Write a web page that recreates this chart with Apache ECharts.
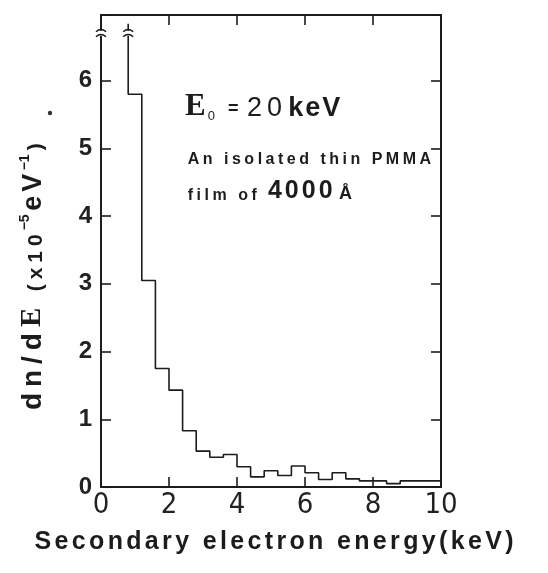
<!DOCTYPE html>
<html>
<head>
<meta charset="utf-8">
<script src="https://cdn.jsdelivr.net/npm/echarts@6/dist/echarts.min.js"></script>
<style>html,body{margin:0;padding:0;background:#fff}#c{width:548px;height:573px}</style>
</head>
<body>
<div id="c"></div>
<script>
// ---- data ----
const binLeftEdges = [0.8, 1.2, 1.6, 2.0, 2.4, 2.8, 3.2, 3.6, 4.0, 4.4, 4.8, 5.2, 5.6, 6.0, 6.4, 6.8, 7.2, 7.6, 8.0, 8.4, 8.8, 9.2, 9.6];
const binValues    = [5.8, 3.05, 1.75, 1.43, 0.83, 0.53, 0.44, 0.48, 0.30, 0.15, 0.24, 0.17, 0.31, 0.21, 0.11, 0.21, 0.12, 0.09, 0.09, 0.05, 0.09, 0.09, 0.09];
const histEnd = 10;
const offscaleValue = 6.84;        // first (off-scale) bin drawn up to the break
const breakMarksX = [0, 0.8];
const breakMarkY = 6.70;
const xTickLabels = ['0', '2', '4', '6', '8', '10'];
const yTickLabels = ['0', '1', '2', '3', '4', '5', '6'];
const xRange = [0, 10];
const yRange = [0, 6.97];

const INK = '#1c1c1c';
const SANS = "'Liberation Sans', Arial, sans-serif";
const NARROW = "'Liberation Sans Narrow', 'DejaVu Sans Condensed', 'Liberation Sans', sans-serif";
const SERIF = "'Liberation Serif', 'DejaVu Serif', serif";

const stepData = [[binLeftEdges[0], offscaleValue]]
  .concat(binLeftEdges.map((x, i) => [x, binValues[i]]))
  .concat([[histEnd, binValues[binValues.length - 1]]]);

function spaced(str, style) {
  return Array.from(str).map(c => '{' + style + '|' + c + '}').join('');
}

const chart = echarts.init(document.getElementById('c'), null, {renderer: 'canvas'});

const axisLine = {show: true, onZero: false, lineStyle: {color: INK, width: 2}};
const axisTick = {show: true, inside: true, length: 10, lineStyle: {color: INK, width: 1.6}};

chart.setOption({
  animation: false,
  backgroundColor: '#fff',
  grid: {left: 101, right: 107, top: 15, bottom: 86, containLabel: false},
  xAxis: [
    {type: 'value', position: 'bottom', min: xRange[0], max: xRange[1], interval: 2,
     axisLine, axisTick, splitLine: {show: false},
     axisLabel: {show: true, margin: 4, fontSize: 29, color: '#222', fontFamily: NARROW,
       formatter: v => xTickLabels.includes(String(v)) ? String(v) : ''}},
    {type: 'value', position: 'top', min: xRange[0], max: xRange[1], interval: 2,
     axisLine, axisTick, splitLine: {show: false}, axisLabel: {show: false}}
  ],
  yAxis: [
    {type: 'value', position: 'left', min: yRange[0], max: yRange[1], interval: 1,
     axisLine, axisTick, splitLine: {show: false},
     axisLabel: {show: true, margin: 9, fontSize: 24, fontWeight: 'bold', color: '#222', fontFamily: SANS,
       formatter: v => yTickLabels.includes(String(v)) ? String(v) : ''}},
    {type: 'value', position: 'right', min: yRange[0], max: yRange[1], interval: 1,
     axisLine, axisTick, splitLine: {show: false}, axisLabel: {show: false}}
  ],
  series: [
    {type: 'line', xAxisIndex: 0, yAxisIndex: 0, step: 'end', data: stepData,
     showSymbol: false, symbol: 'none', lineStyle: {color: INK, width: 1.6}, z: 3, silent: true},
    {type: 'custom', xAxisIndex: 0, yAxisIndex: 0, z: 5, silent: true,
     data: breakMarksX.map(x => [x, breakMarkY]),
     renderItem: function (params, api) {
       const p = api.coord([api.value(0), api.value(1)]);
       const cx = p[0], cy = p[1];
       return {type: 'group', children: [
         {type: 'rect', shape: {x: cx - 3, y: cy - 2.5, width: 6, height: 5}, style: {fill: '#fff'}},
         {type: 'bezierCurve', shape: {x1: cx - 5, y1: cy - 1.5, cpx1: cx, cpy1: cy - 6, x2: cx + 5, y2: cy - 1.5},
          style: {stroke: INK, lineWidth: 1.5, fill: null}},
         {type: 'bezierCurve', shape: {x1: cx - 5, y1: cy + 3.5, cpx1: cx, cpy1: cy - 1, x2: cx + 5, y2: cy + 3.5},
          style: {stroke: INK, lineWidth: 1.5, fill: null}}
       ]};
     }}
  ],
  graphic: [
    // stray dot in the reference
    {type: 'circle', shape: {cx: 50, cy: 113, r: 2.2}, style: {fill: '#333'}},
    // E0 = 20 keV
    {type: 'text', x: 185, y: 107,
     style: {
       text: '{e|E}{sub|0}{eq|=}{t|2}{t|0}{sp| }' + spaced('keV', 'k'),
       textAlign: 'left', align: 'left', textVerticalAlign: 'middle', verticalAlign: 'middle',
       fill: INK,
       rich: {
         e: {fontFamily: SERIF, fontWeight: 'bold', fontSize: 31, fill: INK, verticalAlign: 'bottom'},
         sub: {fontFamily: SANS, fontSize: 13, fill: INK, verticalAlign: 'bottom', padding: [0, 11, 0, 2]},
         eq: {fontFamily: SANS, fontWeight: 'bold', fontSize: 18, fill: INK, verticalAlign: 'bottom', padding: [0, 6, 4, 2]},
         t: {fontFamily: SANS, fontSize: 27, fill: INK, verticalAlign: 'bottom', padding: [0, 2.5]},
         sp: {fontFamily: SANS, fontSize: 10, fill: INK, verticalAlign: 'bottom'},
         k: {fontFamily: SANS, fontWeight: 'bold', fontSize: 27, fill: INK, verticalAlign: 'bottom', padding: [0, 1]}
       }
     }},
    // An isolated thin PMMA
    {type: 'text', x: 186, y: 160,
     style: {
       text: spaced('An isolated thin PMMA', 'a'),
       textAlign: 'left', align: 'left', textVerticalAlign: 'middle', verticalAlign: 'middle',
       fill: INK,
       rich: {a: {fontFamily: SANS, fontWeight: 'bold', fontSize: 16, fill: INK, padding: [0, 1.75]}}
     }},
    // film of 4000 Å
    {type: 'text', x: 186, y: 191,
     style: {
       text: spaced('film of ', 'f') + spaced('4000', 'n') + '{g|Å}',
       textAlign: 'left', align: 'left', textVerticalAlign: 'middle', verticalAlign: 'middle',
       fill: INK,
       rich: {
         f: {fontFamily: SANS, fontWeight: 'bold', fontSize: 16, fill: INK, padding: [0, 1.75], verticalAlign: 'bottom'},
         n: {fontFamily: SANS, fontWeight: 'bold', fontSize: 25, fill: INK, padding: [0, 1.5], verticalAlign: 'bottom'},
         g: {fontFamily: SANS, fontWeight: 'bold', fontSize: 18, fill: INK, padding: [0, 0, 0, 5], verticalAlign: 'bottom'}
       }
     }},
    // y axis title
    {type: 'text', x: 33, y: 277, rotation: Math.PI / 2,
     style: {
       text: spaced('dn/d', 'a') + '{e|E}' + spaced(' (x10', 'n') + '{s|−5}' + spaced('eV', 'b') + '{s|−1}' + '{n|)}',
       textAlign: 'center', align: 'center', textVerticalAlign: 'middle', verticalAlign: 'middle',
       fill: INK,
       rich: {
         a: {fontFamily: SANS, fontWeight: 'bold', fontSize: 28, fill: INK, padding: [0, 3], verticalAlign: 'bottom'},
         e: {fontFamily: SERIF, fontWeight: 'bold', fontSize: 29, fill: INK, padding: [0, 3], verticalAlign: 'bottom'},
         n: {fontFamily: SANS, fontWeight: 'bold', fontSize: 21, fill: INK, padding: [0, 2.5, 1, 2.5], verticalAlign: 'bottom'},
         b: {fontFamily: SANS, fontWeight: 'bold', fontSize: 27, fill: INK, padding: [0, 2], verticalAlign: 'bottom'},
         s: {fontFamily: SANS, fontWeight: 'bold', fontSize: 14, fill: INK, padding: [0, 1.5], verticalAlign: 'top'}
       }
     }},
    // x axis title
    {type: 'text', x: 274, y: 542,
     style: {
       text: spaced('Secondary electron energy(keV)', 'a'),
       textAlign: 'center', align: 'center', textVerticalAlign: 'middle', verticalAlign: 'middle',
       fill: INK,
       rich: {a: {fontFamily: SANS, fontWeight: 'bold', fontSize: 25, fill: INK, padding: [0, 1.67]}}
     }}
  ]
});
</script>
</body>
</html>
